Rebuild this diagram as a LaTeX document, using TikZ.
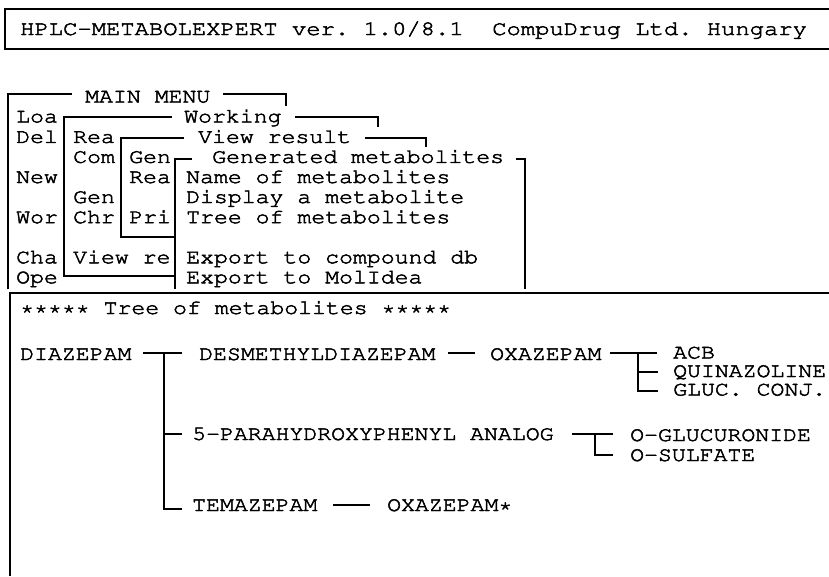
\documentclass[tikz,border=0pt]{standalone}
\usepackage[T1]{fontenc}
\usepackage{graphicx}
\newcommand{\fb}[1]{\special{pdf:literal direct 2 Tr 0.45 w}#1\special{pdf:literal direct 0 Tr}}
\newcommand{\mt}[1]{\fb{\scalebox{1.13}[1]{#1}}}
\newcommand{\hdt}[1]{\fb{\scalebox{1.163}[1]{#1}}}
\tikzset{
  txt/.style={anchor=base west, inner sep=0pt, font=\fontfamily{pcr}\fontsize{20.5}{23}\selectfont\frenchspacing},
  ln/.style={line width=1.4pt, line cap=butt}
}
\begin{document}
\begin{tikzpicture}[x=1pt,y=-1pt]
\useasboundingbox (0,0) rectangle (829,576);
% header
\draw[ln] (829,9) -- (5,9) -- (5,49) -- (829,49);
\node[txt] (hdr) at (20,35) {\hdt{HPLC-METABOLEXPERT ver. 1.0/8.1~~CompuDrug Ltd. Hungary}};
% main menu box
\draw[ln] (8,289) -- (8,94) -- (72,94);
\draw[ln] (223,94) -- (286,94) -- (286,106);
\node[txt] (mm) at (85,102.5) {\mt{MAIN MENU}};
% working box
\draw[ln] (175,276) -- (64,276) -- (64,117) -- (172,117);
\draw[ln] (295,117) -- (378,117) -- (378,127);
\node[txt] (wk) at (184,122.5) {\mt{Working}};
% view result box
\draw[ln] (175,237) -- (121,237) -- (121,138) -- (184,138);
\draw[ln] (365,138) -- (426,138) -- (426,147);
\node[txt] (vr) at (198,142.9) {\mt{View result}};
% generated box
\draw[ln] (175,289) -- (175,159) -- (192,159);
\draw[ln] (516,159) -- (525,159) -- (525,289);
\node[txt] (gm) at (212,162.9) {\mt{Generated metabolites}};
% column 1
\node[txt] (c1a) at (16,122.5) {\mt{Loa}};
\node[txt] (c1b) at (16,142.9) {\mt{Del}};
\node[txt] (c1c) at (16,183) {\mt{New}};
\node[txt] (c1d) at (16,223.2) {\mt{Wor}};
\node[txt] (c1e) at (16,263.3) {\mt{Cha}};
\node[txt] (c1f) at (16,283.3) {\mt{Ope}};
% column 2
\node[txt] (c2a) at (73,142.9) {\mt{Rea}};
\node[txt] (c2b) at (73,162.9) {\mt{Com}};
\node[txt] (c2c) at (73,203) {\mt{Gen}};
\node[txt] (c2d) at (73,223.2) {\mt{Chr}};
\node[txt] (c2e) at (73,263.3) {\mt{View re}};
% column 3
\node[txt] (c3a) at (129,162.9) {\mt{Gen}};
\node[txt] (c3b) at (129,183) {\mt{Rea}};
\node[txt] (c3c) at (129,223.2) {\mt{Pri}};
% column 4
\node[txt] (c4a) at (186,183) {\mt{Name of metabolites}};
\node[txt] (c4b) at (186,203) {\mt{Display a metabolite}};
\node[txt] (c4c) at (186,223.2) {\mt{Tree of metabolites}};
\node[txt] (c4d) at (186,263.3) {\mt{Export to compound db}};
\node[txt] (c4e) at (186,283.3) {\mt{Export to MolIdea}};
% lower box
\draw[ln] (829,293) -- (10,293) -- (10,576);
\node[txt] (ttl) at (20,314) {\mt{***** Tree of metabolites *****}};
% tree
\node[txt] (diaz) at (20,360) {\mt{DIAZEPAM}};
\node[txt] (desm) at (199,360) {\mt{DESMETHYLDIAZEPAM}};
\node[txt] (oxa) at (490,360) {\mt{OXAZEPAM}};
\node[txt] (acb) at (673,358.5) {\mt{ACB}};
\node[txt] (quin) at (673,377) {\mt{QUINAZOLINE}};
\node[txt] (gluc) at (673,395.5) {\mt{GLUC. CONJ.}};
\node[txt] (para) at (192,440) {\mt{5-PARAHYDROXYPHENYL ANALOG}};
\node[txt] (oglu) at (630,441) {\mt{O-GLUCURONIDE}};
\node[txt] (osul) at (630,461) {\mt{O-SULFATE}};
\node[txt] (tema) at (192,511) {\mt{TEMAZEPAM}};
\node[txt] (oxas) at (387,511) {\mt{OXAZEPAM*}};
\coordinate (j1) at (164,353);
\coordinate (j2) at (638,353);
\coordinate (j3) at (595,434);
\draw[ln] (143,353) -- (182,353);
\draw[ln] (j1) -- (164,509) -- (182,509);
\draw[ln] (164,434) -- (182,434);
\draw[ln] (448,353) -- (475,353);
\draw[ln] (610,353) -- (657,353);
\draw[ln] (j2) -- (638,391) -- (658,391);
\draw[ln] (638,372) -- (658,372);
\draw[ln] (572,434) -- (613,434);
\draw[ln] (j3) -- (595,455) -- (613,455);
\draw[ln] (333,505) -- (370,505);
\end{tikzpicture}
\end{document}
